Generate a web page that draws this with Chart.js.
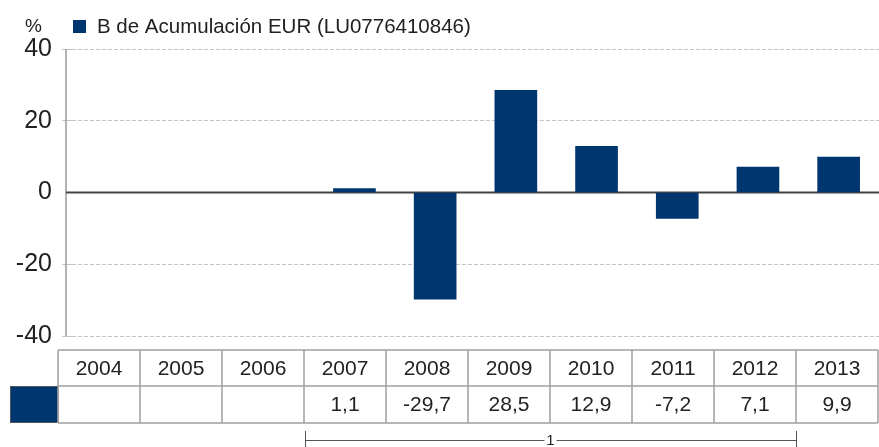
<!DOCTYPE html>
<html>
<head>
<meta charset="utf-8">
<script src="https://cdn.jsdelivr.net/npm/chart.js@4.4.0/dist/chart.umd.min.js"></script>
<style>
  html, body { margin: 0; padding: 0; background: #fff; }
  canvas { display: block; }
</style>
</head>
<body>
<canvas id="grafico" width="879" height="447"></canvas>
<script>
// Datos del gráfico
const years = ['2004', '2005', '2006', '2007', '2008', '2009', '2010', '2011', '2012', '2013'];
const fundLabel = 'B de Acumulación EUR (LU0776410846)';
const returns = [null, null, null, 1.1, -29.7, 28.5, 12.9, -7.2, 7.1, 9.9];
const yTicks = [-40, -20, 0, 20, 40];
const unitLabel = '%';
const bracketFrom = '2007';
const bracketTo = '2012';
const bracketLabel = '1';

const barColor = '#003670';
const textColor = '#222';
const fontFamily = '"Liberation Sans", Arial, sans-serif';

function fmt(v) {
    return v === null ? '' : v.toFixed(1).replace('.', ',');
}

// Ejes, leyenda, tabla y corchete
const extras = {
    id: 'extras',
    beforeDatasetsDraw(chart) {
        const ctx = chart.ctx;
        const area = chart.chartArea;
        const y0 = chart.scales.y.getPixelForValue(0);
        ctx.save();
        // eje vertical
        ctx.strokeStyle = '#9a9a9a';
        ctx.lineWidth = 1.5;
        ctx.beginPath();
        ctx.moveTo(area.left - 6, area.top);
        ctx.lineTo(area.left - 6, area.bottom);
        ctx.stroke();
        // línea del cero
        ctx.strokeStyle = '#444';
        ctx.lineWidth = 2;
        ctx.beginPath();
        ctx.moveTo(area.left - 6, y0);
        ctx.lineTo(area.right, y0);
        ctx.stroke();
        ctx.restore();
    },
    afterDraw(chart) {
        const ctx = chart.ctx;
        ctx.save();
        ctx.textBaseline = 'middle';

        // unidad y leyenda
        ctx.fillStyle = textColor;
        ctx.font = '19px ' + fontFamily;
        ctx.textAlign = 'left';
        ctx.fillText(unitLabel, 25, 27);
        ctx.fillStyle = barColor;
        ctx.fillRect(73, 20, 13, 13);
        ctx.fillStyle = textColor;
        ctx.font = '20.5px ' + fontFamily;
        ctx.fillText(chart.data.datasets[0].label, 97, 27);

        // tabla
        const tLeft = 58, colW = 82, r0 = 350, r1 = 386, r2 = 423;
        const tRight = tLeft + colW * years.length;
        ctx.fillStyle = barColor;
        ctx.fillRect(10, r1, tLeft - 10, r2 - r1);
        ctx.strokeStyle = '#555';
        ctx.lineWidth = 1;
        ctx.strokeRect(10.5, r1 + 0.5, tLeft - 10.5, r2 - r1 - 1);

        ctx.strokeStyle = '#a0a0a0';
        ctx.lineWidth = 1.5;
        ctx.beginPath();
        [r0, r1, r2].forEach(y => { ctx.moveTo(tLeft, y); ctx.lineTo(tRight, y); });
        for (let i = 0; i <= years.length; i++) {
            ctx.moveTo(tLeft + i * colW, r0);
            ctx.lineTo(tLeft + i * colW, r2);
        }
        ctx.stroke();

        ctx.fillStyle = textColor;
        ctx.font = '21px ' + fontFamily;
        ctx.textAlign = 'center';
        years.forEach((yr, i) => {
            const cx = tLeft + i * colW + colW / 2;
            ctx.fillText(yr, cx, (r0 + r1) / 2 + 1);
            ctx.fillText(fmt(returns[i]), cx, (r1 + r2) / 2 + 1);
        });

        // corchete
        const bx0 = tLeft + years.indexOf(bracketFrom) * colW + 1;
        const bx1 = tLeft + (years.indexOf(bracketTo) + 1) * colW;
        const by = 440;
        ctx.strokeStyle = '#555';
        ctx.lineWidth = 1;
        ctx.beginPath();
        ctx.moveTo(bx0 + 0.5, 431); ctx.lineTo(bx0 + 0.5, 447);
        ctx.moveTo(bx1 + 0.5, 431); ctx.lineTo(bx1 + 0.5, 447);
        ctx.moveTo(bx0, by + 0.5); ctx.lineTo((bx0 + bx1) / 2 - 6, by + 0.5);
        ctx.moveTo((bx0 + bx1) / 2 + 6, by + 0.5); ctx.lineTo(bx1, by + 0.5);
        ctx.stroke();
        ctx.font = '15px ' + fontFamily;
        ctx.fillStyle = textColor;
        ctx.fillText(bracketLabel, (bx0 + bx1) / 2, by + 1);
        ctx.restore();
    }
};

new Chart(document.getElementById('grafico').getContext('2d'), {
    type: 'bar',
    data: {
        labels: years,
        datasets: [{
            label: fundLabel,
            data: returns,
            backgroundColor: barColor,
            barThickness: 42
        }]
    },
    options: {
        responsive: false,
        animation: false,
        layout: { padding: { top: 49, bottom: 111, left: 0, right: 0 } },
        plugins: {
            legend: { display: false },
            tooltip: { enabled: false }
        },
        scales: {
            x: { display: false },
            y: {
                min: -40,
                max: 40,
                afterFit: s => { s.width = 72; },
                afterBuildTicks: s => { s.ticks = yTicks.map(v => ({ value: v })); },
                border: { display: false, dash: [4, 2] },
                grid: {
                    color: c => (c.tick && c.tick.value === 0) ? 'rgba(0,0,0,0)' : '#c4c4c4',
                    lineWidth: 1,
                    tickLength: 10
                },
                ticks: {
                    color: textColor,
                    padding: 10,
                    font: { family: fontFamily, size: 25 }
                }
            }
        }
    },
    plugins: [extras]
});
</script>
</body>
</html>
